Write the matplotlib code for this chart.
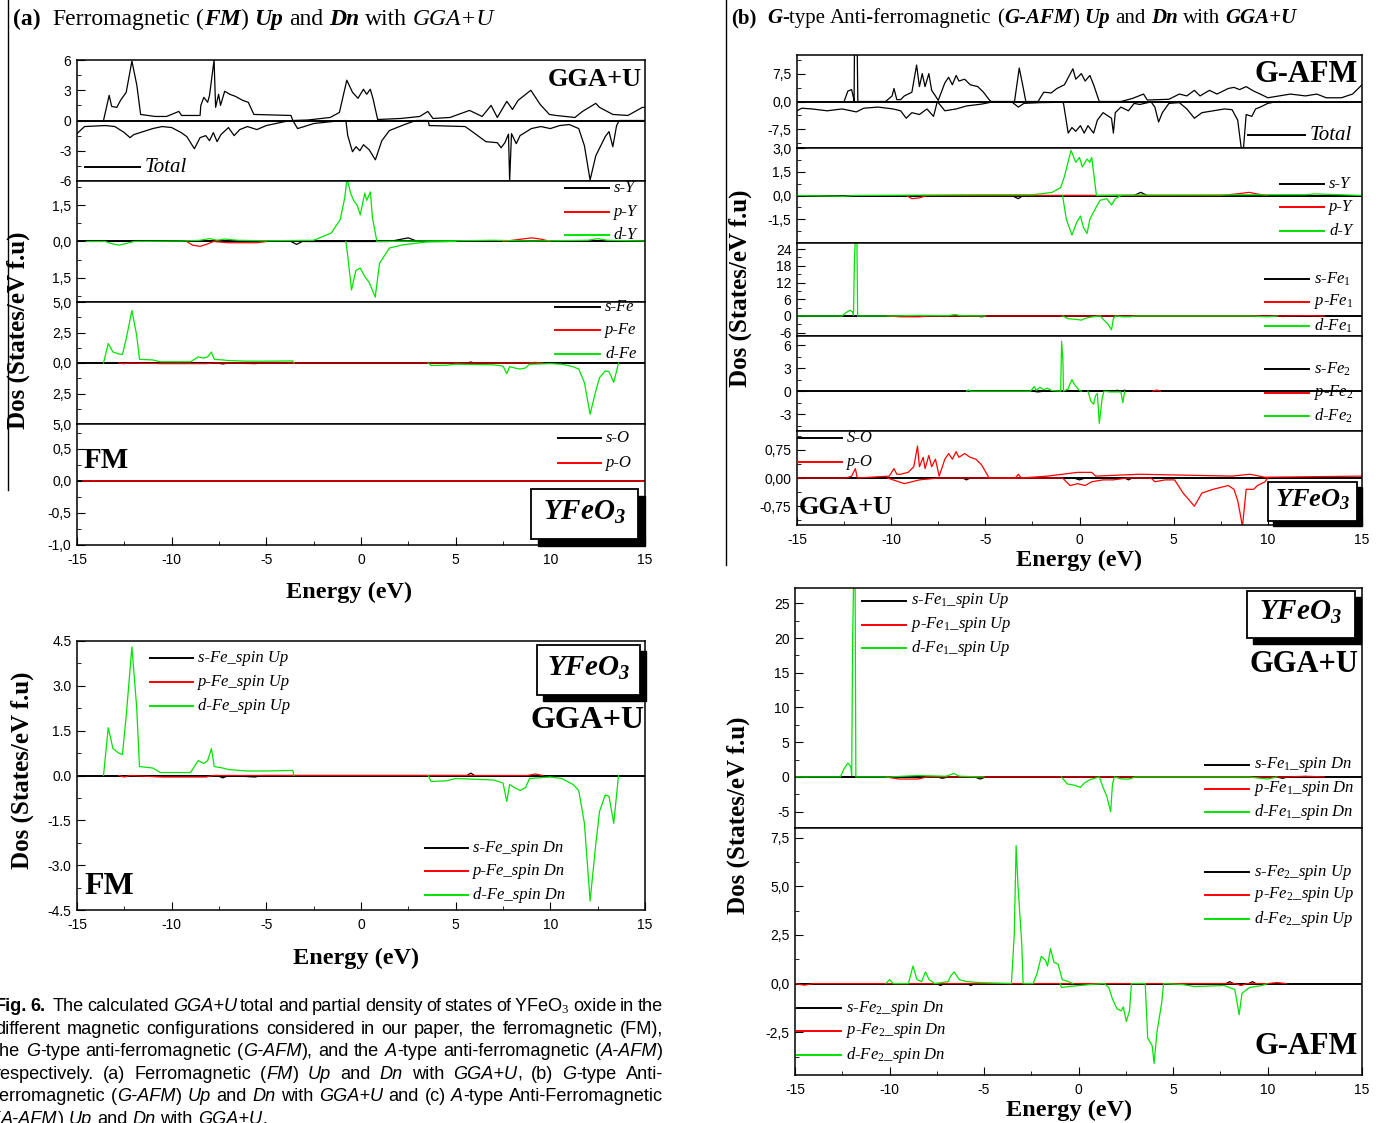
import matplotlib.pyplot as plt
from matplotlib.lines import Line2D
from matplotlib.patches import Rectangle
from matplotlib.ticker import MultipleLocator

plt.rcParams['font.family'] = ['Liberation Serif', 'DejaVu Serif']
plt.rcParams['mathtext.fontset'] = 'custom'
plt.rcParams['mathtext.rm'] = 'Liberation Serif'
plt.rcParams['mathtext.it'] = 'Liberation Serif:italic'
plt.rcParams['mathtext.bf'] = 'Liberation Serif:italic:bold'
plt.rcParams['axes.linewidth'] = 1.1
plt.rcParams['axes.unicode_minus'] = False

GREEN = '#00e400'
RED = '#ff0000'

# ---------------- FM : total and partial DOS (energy eV, states/eV) ----------------
fm_total_up = [(-13.6, 0), (-13.3, 2.5), (-13.17, 1.4), (-12.9, 1.3), (-12.7, 2.0), (-12.4, 2.8),
               (-12.1, 5.9), (-11.84, 3.5), (-11.64, 0.6), (-10.86, 0.4), (-10.27, 0.4), (-9.62, 0.9),
               (-9.48, 0.5), (-8.5, 0.5), (-8.46, 1.5), (-8.3, 2.3), (-8.1, 1.8), (-8.0, 2.5),
               (-7.76, 6.0), (-7.68, 1.3), (-7.52, 2.6), (-7.42, 1.5), (-7.2, 2.9), (-6.93, 2.6),
               (-6.64, 2.4), (-6.25, 2.0), (-5.95, 1.8), (-5.66, 0.6), (-3.7, 0.5), (-3.6, 0.0),
               (-2.8, 0.05), (-1.63, 0.3), (-1.14, 0.8), (-0.75, 4.0), (-0.45, 2.8), (-0.16, 2.2),
               (0.13, 3.1), (0.3, 2.6), (0.49, 3.1), (0.63, 2.2), (0.88, 0.1), (2.1, 0.2), (3.1, 0.4),
               (3.53, 0.9), (3.8, 0.2), (4.7, 0.3), (5.73, 1.0), (6.4, 0.4), (6.87, 1.5), (7.2, 0.3),
               (7.7, 1.9), (8.0, 1.1), (8.3, 2.0), (8.97, 3.0), (9.46, 1.6), (9.95, 0.6), (10.3, 0.5),
               (11.3, 0.3), (11.7, 0.9), (12.4, 1.7), (12.6, 1.3), (13.3, 0.6), (14.1, 0.5), (14.86, 1.3),
               (15.0, 1.3)]
fm_total_dn = [(-15, -1.3), (-14.6, -0.6), (-13.5, -0.5), (-13.0, -0.6), (-12.5, -1.2), (-12.2, -1.7),
               (-12.0, -1.4), (-11.5, -1.1), (-11.0, -0.8), (-10.5, -0.6), (-10.0, -0.7), (-9.5, -1.2),
               (-9.2, -1.6), (-8.8, -2.8), (-8.5, -1.7), (-8.2, -1.5), (-8.0, -2.0), (-7.8, -1.2),
               (-7.6, -2.1), (-7.4, -1.4), (-7.0, -0.7), (-6.7, -1.5), (-6.4, -0.9), (-6.0, -0.6),
               (-5.5, -0.9), (-5.0, -0.5), (-4.5, -0.3), (-4.0, -0.1), (-3.6, 0.0), (-3.35, -0.8),
               (-3.0, -0.6), (-2.5, -0.3), (-1.5, -0.1), (-0.8, 0.0), (-0.7, -1.5), (-0.45, -3.1),
               (-0.26, -2.6), (-0.06, -3.0), (0.13, -2.4), (0.43, -2.9), (0.76, -3.9), (1.1, -2.0),
               (1.5, -1.0), (2.3, -0.4), (2.9, 0.0), (3.55, 0.0), (3.6, -0.5), (5.5, -0.6), (5.8, -1.0),
               (6.6, -2.1), (7.2, -2.2), (7.4, -2.7), (7.6, -2.2), (7.79, -1.35), (7.85, -6.0),
               (7.95, -1.3), (8.2, -2.3), (8.4, -1.5), (9.0, -0.8), (9.5, -0.6), (10.0, -0.8),
               (10.5, -0.5), (11.0, -0.4), (11.5, -0.8), (11.8, -2.5), (12.1, -5.9), (12.4, -3.5),
               (12.9, -1.6), (13.1, -1.1), (13.3, -2.6), (13.5, -0.5), (13.64, 0.0), (15.0, 0.0)]

fm_sY = [(-3.7, 0), (-3.4, -0.12), (-3.1, 0), (1.5, 0), (2.5, 0.15), (3.0, 0)]
fm_pY_dn = [(-9.2, 0), (-8.9, -0.15), (-8.5, -0.2), (-8.1, -0.1), (-7.8, 0), (-7.0, -0.05), (-5.5, -0.05), (-5.0, 0)]
fm_pY_up = [(7.5, 0), (8.0, 0.05), (8.5, 0.1), (9.0, 0.15), (9.5, 0.1), (10.0, 0)]
fm_dY_up = [(-14.5, 0.0), (-13.5, 0.0), (-13.2, -0.08), (-12.8, -0.15), (-12.4, -0.08), (-12.0, 0.0),
            (-9.5, 0.02), (-8.5, 0.05), (-8.0, 0.12), (-7.6, 0.05), (-7.2, 0.1), (-6.5, 0.05),
            (-5.0, 0.03), (-2.5, 0.05), (-1.57, 0.35), (-1.1, 0.9), (-0.86, 1.8), (-0.74, 2.6),
            (-0.55, 2.0), (-0.39, 1.7), (-0.2, 1.5), (-0.04, 1.1), (0.2, 2.0), (0.3, 1.7),
            (0.5, 2.05), (0.6, 1.0), (0.84, 0.0), (3.0, 0.02), (5.0, 0.03), (7.0, 0.05), (9.0, 0.02),
            (12.0, 0.05), (12.5, 0.12), (13.0, 0.05), (15.0, 0.02)]
fm_dY_dn = [(-0.8, 0.0), (-0.7, -0.6), (-0.5, -2.0), (-0.27, -1.2), (-0.04, -1.1), (0.2, -1.45),
            (0.44, -1.7), (0.75, -2.3), (0.98, -0.9), (1.5, -0.27), (2.2, -0.14), (3.5, -0.02), (5.0, 0.0)]

fm_sFe = [(-7.6, 0), (-7.3, -0.08), (-7.0, 0), (-5.6, -0.05), (-5.2, 0), (5.6, 0), (5.8, 0.08), (6.0, 0)]
fm_pFe = [(-12.8, 0), (-12.5, -0.05), (-12.2, 0), (-10.5, -0.05), (-8.2, -0.05), (-7.8, 0),
          (8.8, 0), (9.2, 0.05), (9.6, 0)]
fm_dFe_up = [(-13.6, 0.0), (-13.35, 1.6), (-13.1, 0.9), (-12.8, 0.75), (-12.6, 0.7), (-12.4, 2.0),
             (-12.1, 4.3), (-11.85, 2.3), (-11.7, 0.3), (-11.0, 0.25), (-10.6, 0.1), (-9.0, 0.1),
             (-8.6, 0.5), (-8.3, 0.4), (-8.1, 0.5), (-7.9, 0.9), (-7.75, 0.3), (-7.3, 0.25),
             (-7.0, 0.2), (-6.0, 0.15), (-5.0, 0.15), (-3.6, 0.17), (-3.55, 0.0)]
fm_dFe_dn = [(3.55, 0.0), (3.7, -0.2), (4.5, -0.18), (5.0, -0.1), (7.0, -0.15), (7.5, -0.25),
             (7.7, -0.87), (7.85, -0.3), (8.1, -0.4), (8.4, -0.5), (8.7, -0.4), (8.9, -0.1),
             (10.0, -0.05), (10.6, -0.1), (11.2, -0.3), (11.5, -0.5), (11.8, -1.6), (12.1, -4.2),
             (12.4, -2.3), (12.6, -1.2), (12.9, -0.65), (13.1, -0.7), (13.35, -1.6), (13.6, 0.0)]
fm_pO = [(-14.7, 0.0), (15.0, 0.0)]

# ---------------- G-AFM : total and partial DOS ----------------
gafm_total_up = [(-12.5, 0), (-12.3, 2.8), (-12.1, 3.2), (-12.0, 1.0), (-11.97, 0), (-11.95, 13),
                 (-11.8, 13), (-11.77, 0), (-10.3, 0), (-9.95, 1.5), (-9.85, 3.5), (-9.7, 0.5),
                 (-9.5, 0.5), (-9.3, 1.5), (-8.9, 2.5), (-8.65, 9.8), (-8.5, 4.0), (-8.35, 7.5),
                 (-8.2, 4.0), (-8.0, 7.5), (-7.85, 3.0), (-7.65, 1.5), (-7.5, 0.3), (-7.15, 5.0),
                 (-6.95, 6.5), (-6.75, 4.5), (-6.55, 7.0), (-6.4, 5.5), (-6.1, 6.0), (-5.8, 4.5),
                 (-5.4, 4.0), (-5.1, 2.5), (-4.8, 0.5), (-4.7, 0.0), (-3.45, 0.0), (-3.2, 9.0),
                 (-3.0, 4.0), (-2.85, 0.0), (-2.2, 0.0), (-1.9, 2.5), (-1.5, 2.3), (-1.2, 3.5),
                 (-0.8, 4.5), (-0.35, 8.8), (-0.2, 6.0), (0.1, 7.5), (0.3, 5.5), (0.55, 7.0),
                 (0.75, 4.5), (1.05, 0.0), (2.2, 0.0), (2.8, 0.8), (3.4, 2.0), (3.6, 0.4), (4.2, 0.5),
                 (4.75, 0.6), (5.3, 2.0), (5.7, 1.5), (6.1, 3.0), (6.4, 1.5), (6.9, 3.0), (7.3, 2.0),
                 (7.9, 3.5), (8.2, 3.8), (8.5, 3.2), (8.85, 4.0), (9.25, 2.8), (9.6, 2.0), (10.0, 1.0),
                 (10.6, 1.5), (11.2, 2.0), (12.0, 1.5), (12.6, 2.0), (13.1, 1.0), (13.9, 1.0),
                 (14.5, 2.0), (15.0, 4.5)]
gafm_total_dn = [(-15, -2.5), (-14.75, -1.8), (-14.2, -2.0), (-13.4, -2.5), (-12.6, -2.0), (-11.85, -2.8),
                 (-11.45, -1.8), (-10.7, -1.5), (-9.9, -2.0), (-9.5, -2.5), (-9.2, -4.5), (-8.9, -3.0),
                 (-8.5, -3.5), (-8.1, -2.0), (-7.75, -4.0), (-7.55, 0.0), (-7.15, -2.5), (-6.55, -2.0),
                 (-6.0, -1.2), (-5.2, -0.7), (-4.6, -0.1), (-3.6, -0.1), (-3.25, -1.5), (-2.95, -0.5),
                 (-2.1, -0.3), (-0.9, -0.2), (-0.85, -0.5), (-0.6, -8.5), (-0.4, -7.0), (-0.2, -8.0),
                 (0.05, -6.5), (0.25, -8.5), (0.45, -6.5), (0.75, -8.5), (0.95, -5.0), (1.25, -3.0),
                 (1.7, -4.5), (1.8, -8.5), (1.9, -3.0), (2.2, -1.5), (2.6, -2.5), (2.9, -0.5),
                 (3.2, -0.8), (3.8, -0.1), (4.0, -1.5), (4.2, -5.5), (4.4, -3.0), (4.75, -0.5),
                 (5.3, -0.3), (5.7, -2.0), (6.1, -4.5), (6.5, -3.0), (7.1, -2.5), (7.7, -2.0),
                 (8.1, -2.2), (8.4, -5.0), (8.6, -13), (8.7, -13), (8.85, -3.5), (9.15, -4.0),
                 (9.35, -2.0), (9.6, -1.5), (10.0, -0.5), (10.4, -0.1), (10.6, 0.0)]

gafm_sY = [(-3.6, 0), (-3.25, -0.2), (-3.0, 0), (2.9, 0), (3.25, 0.2), (3.6, 0)]
gafm_pY = [(-9.2, 0), (-8.9, -0.2), (-8.5, -0.15), (-8.1, 0), (7.5, 0), (8.5, 0.12), (9.0, 0.2),
           (9.5, 0.08), (10.0, 0)]
gafm_dY_up = [(-15, 0.0), (-12.5, -0.05), (-12.0, 0.0), (-5.0, 0.05), (-2.5, 0.05), (-2.1, 0.1),
              (-1.45, 0.2), (-1.0, 0.5), (-0.8, 1.2), (-0.45, 2.85), (-0.2, 2.1), (0.0, 2.4),
              (0.15, 1.8), (0.4, 2.3), (0.55, 2.1), (0.65, 2.4), (0.9, 0.0), (3.0, 0.03),
              (12.0, 0.05), (12.5, 0.1), (15.0, 0.0)]
gafm_dY_dn = [(-0.9, 0.0), (-0.7, -1.5), (-0.4, -2.5), (-0.15, -1.7), (0.05, -1.3), (0.2, -2.0),
              (0.4, -2.4), (0.55, -1.5), (0.9, -0.7), (1.1, -0.3), (1.45, -0.2), (1.7, -0.6),
              (1.9, -0.2), (2.2, 0.0)]

gafm_sFe1 = [(-7.5, 0), (-7.2, -0.2), (-6.9, 0), (-5.5, 0), (-5.2, -0.3), (-4.9, 0), (10.5, 0), (10.8, -0.2), (11.1, 0)]
gafm_pFe1 = [(-10.2, 0), (-9.5, -0.3), (-8.5, -0.3), (-8.0, 0), (11.0, 0), (12.0, 0.1), (13.0, 0)]
gafm_dFe1_up = [(-15, 0.0), (-12.6, 0.0), (-12.4, 1.2), (-12.2, 2.0), (-12.05, 1.5), (-12.0, 0.2),
                (-11.95, 20), (-11.9, 28), (-11.82, 28), (-11.78, 0.0), (-10.0, 0.0), (-8.5, 0.2),
                (-7.0, 0.1), (-6.6, 0.5), (-6.3, 0.1), (-5.0, 0.0)]
gafm_dFe1_dn = [(-0.9, 0.0), (-0.6, -1.0), (-0.2, -1.2), (0.1, -1.5), (0.3, -0.9), (0.6, -0.4),
                (1.1, 0.0), (1.3, -1.5), (1.5, -2.8), (1.7, -5.0), (1.8, -1.0), (1.9, 0.0),
                (2.3, -0.3), (2.7, -0.3), (3.0, 0.0), (9.0, 0.0), (10.0, -0.3), (10.5, 0.0)]

gafm_sFe2 = [(-2.5, 0), (-2.2, -0.1), (-1.9, 0), (1.8, 0), (2.0, 0.12), (2.2, 0), (2.4, 0.12), (2.6, 0)]
gafm_pFe2 = [(3.9, 0), (4.1, 0.15), (4.3, 0)]
gafm_dFe2_up = [(-6.0, 0.0), (-5.9, 0.15), (-5.8, 0.0), (-2.6, 0.0), (-2.4, 0.6), (-2.3, 0.1),
                (-2.1, 0.5), (-1.9, 0.2), (-1.7, 0.4), (-1.5, 0.1), (-1.0, 0.0), (-0.95, 6.5),
                (-0.88, 4.0), (-0.85, 0.0), (-0.6, 0.3), (-0.5, 1.0), (-0.4, 1.5), (-0.3, 1.0),
                (-0.15, 0.5), (0.0, 0.1), (0.1, 0.0)]
gafm_dFe2_dn = [(0.45, 0.0), (0.6, -1.3), (0.75, -1.7), (0.85, -0.6), (0.95, -0.3), (1.05, -4.2),
                (1.2, -1.0), (1.3, 0.0), (1.6, -0.1), (2.2, -0.1), (2.3, -1.5), (2.4, 0.0)]

gafm_sO = [(-6.2, 0), (-6.0, -0.05), (-5.8, 0), (-0.3, 0), (0.0, -0.05), (0.3, 0), (2.4, 0), (2.6, -0.05), (2.8, 0)]
gafm_pO_up = [(-15, 0.0), (-12.4, 0.0), (-12.1, 0.05), (-11.9, 0.25), (-11.8, 0.0), (-10.1, 0.05),
              (-9.85, 0.25), (-9.7, 0.1), (-9.5, 0.1), (-9.1, 0.15), (-8.8, 0.3), (-8.6, 0.85),
              (-8.5, 0.3), (-8.3, 0.55), (-8.2, 0.25), (-8.0, 0.6), (-7.85, 0.3), (-7.65, 0.5),
              (-7.45, 0.05), (-7.15, 0.5), (-6.95, 0.65), (-6.75, 0.5), (-6.55, 0.7), (-6.4, 0.55),
              (-6.1, 0.65), (-5.8, 0.55), (-5.5, 0.5), (-5.2, 0.35), (-4.8, 0.0), (-3.4, 0.0),
              (-3.25, 0.1), (-3.1, 0.0), (-1.7, 0.05), (-0.9, 0.1), (-0.1, 0.15), (0.65, 0.15),
              (0.85, 0.05), (3.2, 0.1), (8.1, 0.05), (9.05, 0.1), (9.85, 0.02), (15.0, 0.05)]
gafm_pO_dn = [(-10.2, 0.0), (-9.9, -0.05), (-9.3, -0.15), (-8.5, -0.05), (-7.5, 0.0), (-0.9, 0.0),
              (-0.7, -0.1), (-0.5, -0.2), (-0.1, -0.15), (0.3, -0.2), (0.65, -0.1), (1.25, -0.05),
              (1.8, -0.05), (2.5, 0.0), (3.8, 0.0), (4.0, -0.1), (4.55, -0.05), (5.05, -0.05),
              (5.5, -0.4), (6.1, -0.75), (6.5, -0.4), (7.1, -0.3), (7.9, -0.2), (8.2, -0.3),
              (8.4, -0.6), (8.55, -1.0), (8.65, -1.3), (8.85, -0.3), (9.25, -0.3), (9.45, -0.2),
              (9.85, -0.1), (10.0, 0.0)]

# second Fe site, spin-resolved (lower right)
gafm_sFe2b = [(-7.5, 0), (-7.3, -0.1), (-7.1, 0), (-5.9, 0), (-5.7, -0.1), (-5.5, 0), (7.8, 0), (8.0, 0.1),
              (8.2, 0), (9.0, 0), (9.2, 0.1), (9.4, 0)]
gafm_pFe2b = [(-15, 0), (-14.5, -0.08), (-14.0, 0), (8.3, 0), (8.6, -0.1), (8.9, 0), (10.0, 0),
              (10.5, 0.05), (11.0, 0)]
gafm_dFe2b_up = [(-10.2, 0.0), (-10.0, 0.2), (-9.8, 0.0), (-9.0, 0.0), (-8.76, 0.9), (-8.54, 0.2),
                 (-8.3, 0.1), (-8.1, 0.6), (-7.9, 0.2), (-7.6, 0.0), (-6.9, 0.1), (-6.76, 0.4),
                 (-6.58, 0.6), (-6.3, 0.2), (-5.9, 0.1), (-5.2, 0.05), (-3.55, 0.0), (-3.4, 2.5),
                 (-3.3, 7.1), (-3.2, 5.0), (-3.0, 2.0), (-2.93, 0.0), (-2.4, 0.0), (-2.2, 0.5),
                 (-1.97, 1.4), (-1.75, 1.2), (-1.64, 0.9), (-1.48, 1.8), (-1.3, 1.1), (-1.08, 1.0),
                 (-0.86, 0.2), (-0.52, 0.1), (-0.3, 0.0)]
gafm_dFe2b_dn = [(-0.97, 0.0), (-0.9, -0.2), (-0.5, -0.15), (0.6, -0.05), (1.37, 0.0), (1.6, -0.2),
                 (1.8, -0.8), (2.04, -1.3), (2.26, -1.4), (2.37, -1.2), (2.53, -1.95), (2.7, -1.4),
                 (2.8, 0.0), (3.53, 0.0), (3.66, -2.8), (3.9, -3.2), (4.0, -4.1), (4.15, -2.5),
                 (4.4, -1.0), (4.5, 0.0), (5.5, -0.05), (6.15, -0.15), (7.7, -0.1), (8.27, -0.3),
                 (8.5, -1.6), (8.65, -0.5), (9.05, -0.2), (9.7, -0.1), (10.0, 0.0)]

# ------------------------------------------------------------------------------
W, H = 1379, 1123
fig = plt.figure(figsize=(W / 100, H / 100), dpi=100)
renderer = fig.canvas.get_renderer()


def fx(x):
    return x / W


def fy(y):
    return 1 - y / H


def panel(left, top, right, bottom, ylim, yticks, ylabels, yminor, xlabels=False):
    ax = fig.add_axes([fx(left), fy(bottom), (right - left) / W, (bottom - top) / H])
    ax.set_xlim(-15, 15)
    ax.set_ylim(*ylim)
    ax.set_yticks(yticks, ylabels)
    ax.yaxis.set_minor_locator(MultipleLocator(yminor))
    ax.xaxis.set_major_locator(MultipleLocator(5))
    ax.xaxis.set_minor_locator(MultipleLocator(2.5))
    ax.tick_params(which='both', direction='in', labelsize=10,
                   labelfontfamily='Liberation Sans', pad=4)
    ax.tick_params(which='major', length=6)
    ax.tick_params(which='minor', length=3)
    if xlabels:
        ax.tick_params(axis='x', pad=6)
    else:
        ax.tick_params(axis='x', which='both', bottom=False, labelbottom=False)
    ax.axhline(0, color='k', lw=1.4, zorder=1)
    return ax


def trace(ax, pts, color, lw=0.9):
    e, d = zip(*pts)
    ax.plot(e, d, color=color, lw=lw, zorder=2)


def key(x0, x1, y, color, label, size=12):
    fig.add_artist(Line2D([fx(x0), fx(x1)], [fy(y), fy(y)], color=color, lw=1.4))
    fig.text(fx(x1 + 5), fy(y), label, fontsize=size, style='italic', ha='left', va='center')


def formula(left, top, right, bottom, d=7, size=21):
    fig.add_artist(Rectangle((fx(left + d), fy(bottom + d)), (right - left) / W, (bottom - top) / H,
                             transform=fig.transFigure, facecolor='k', edgecolor='k', zorder=4))
    fig.add_artist(Rectangle((fx(left), fy(bottom)), (right - left) / W, (bottom - top) / H,
                             transform=fig.transFigure, facecolor='white', edgecolor='k',
                             lw=1.3, zorder=5))
    fig.text(fx((left + right) / 2), fy((top + bottom) / 2 - 2), r'YFeO$_{\mathbf{3}}$',
             fontsize=size, weight='bold', style='italic', ha='center', va='center', zorder=6)


def tag(x, y, s, size=20, ha='right'):
    fig.text(fx(x), fy(y), s, fontsize=size, weight='bold', ha=ha, va='center')


def dos_label(x, y):
    fig.text(fx(x), fy(y), 'Dos (States/eV f.u)', rotation=90, fontsize=18, weight='bold',
             ha='center', va='center')


def energy_label(x, y):
    fig.text(fx(x), fy(y), 'Energy (eV)', fontsize=17.5, weight='bold', ha='center', va='center')


def width_of(s, size, **kw):
    t = fig.text(0, 0, s, fontsize=size, **kw)
    w = t.get_window_extent(renderer).width
    t.remove()
    return w


def runs(x, y, parts, size, family, span=None):
    space = width_of('n n', size, family=family) - width_of('nn', size, family=family)
    words = []
    for txt, kw in parts:
        for i, w in enumerate(txt.split(' ')):
            if i:
                words.append(None)
            if w:
                words.append((w, kw))
    sizes = [space if w is None else width_of(w[0], size, family=family, **w[1]) for w in words]
    gap = space
    if span is not None:
        gap = space + (span - sum(sizes)) / words.count(None)
    for w, s in zip(words, sizes):
        if w is None:
            x += gap
        else:
            fig.text(fx(x), fy(y), w[0], fontsize=size, family=family, va='baseline', **w[1])
            x += s


N = {}
B = dict(weight='bold')
I = dict(style='italic')
BI = dict(weight='bold', style='italic')
SERIF = ['Liberation Serif', 'DejaVu Serif']

# ---------------- (a) FM stacked panels ----------------
a_l, a_r = 77, 645
ax = panel(a_l, 60, a_r, 181, (-6, 6), [-6, -3, 0, 3, 6], ['-6', '-3', '0', '3', '6'], 1.5)
trace(ax, fm_total_up, 'k')
trace(ax, fm_total_dn, 'k')

ax = panel(a_l, 181, a_r, 302, (-2.5, 2.5), [-1.5, 0, 1.5], ['1,5', '0,0', '1,5'], 0.75)
trace(ax, fm_sY, 'k')
trace(ax, fm_pY_dn, RED)
trace(ax, fm_pY_up, RED)
trace(ax, fm_dY_up, GREEN)
trace(ax, fm_dY_dn, GREEN)

ax = panel(a_l, 302, a_r, 424, (-5, 5), [-5, -2.5, 0, 2.5, 5], ['5,0', '2,5', '0,0', '2,5', '5,0'], 1.25)
trace(ax, fm_sFe, 'k')
trace(ax, fm_pFe, RED)
trace(ax, fm_dFe_up, GREEN)
trace(ax, fm_dFe_dn, GREEN)

ax = panel(a_l, 424, a_r, 545, (-1.0, 0.89), [-1.0, -0.5, 0, 0.5],
           ['-1,0', '-0,5', '0,0', '0,5'], 0.25, xlabels=True)
trace(ax, fm_pO, RED, lw=1.1)

key(85, 140, 167, 'k', 'Total', size=15)
for y, c, s in [(188, 'k', 's-Y'), (212, RED, 'p-Y'), (235, GREEN, 'd-Y')]:
    key(565, 609, y, c, s)
for y, c, s in [(307, 'k', 's-Fe'), (330, RED, 'p-Fe'), (354, GREEN, 'd-Fe')]:
    key(555, 600, y, c, s)
for y, c, s in [(438, 'k', 's-O'), (463, RED, 'p-O')]:
    key(558, 601, y, c, s)
tag(642, 80, 'GGA+U', size=19)
tag(84, 461, 'FM', size=21, ha='left')
formula(531, 489, 638, 539)
dos_label(18, 330)
energy_label(349, 592)

# ---------------- FM Fe spin-resolved ----------------
ax = panel(77, 641, 645, 910, (-4.5, 4.5), [-4.5, -3, -1.5, 0, 1.5, 3, 4.5],
           ['-4.5', '-3.0', '-1.5', '0.0', '1.5', '3.0', '4.5'], 0.75, xlabels=True)
trace(ax, fm_sFe, 'k')
trace(ax, fm_pFe, RED)
trace(ax, fm_dFe_up, GREEN)
trace(ax, fm_dFe_dn, GREEN)
for y, c, s in [(658, 'k', 's-Fe_spin Up'), (682, RED, 'p-Fe_spin Up'), (706, GREEN, 'd-Fe_spin Up')]:
    key(150, 193, y, c, s)
for y, c, s in [(848, 'k', 's-Fe_spin Dn'), (871, RED, 'p-Fe_spin Dn'), (895, GREEN, 'd-Fe_spin Dn')]:
    key(425, 468, y, c, s)
formula(537, 645, 640, 695, d=6)
tag(645, 720, 'GGA+U', size=23)
tag(84, 886, 'FM', size=23, ha='left')
dos_label(22, 770)
energy_label(356, 958)

# ---------------- (b) G-AFM stacked panels ----------------
b_l, b_r = 797, 1362
ax = panel(b_l, 55, b_r, 148, (-12.5, 12.5), [-7.5, 0, 7.5], ['-7,5', '0,0', '7,5'], 3.75)
trace(ax, gafm_total_up, 'k')
trace(ax, gafm_total_dn, 'k')

ax = panel(b_l, 148, b_r, 243, (-3, 3), [-1.5, 0, 1.5, 3], ['-1,5', '0,0', '1,5', '3,0'], 0.75)
trace(ax, gafm_sY, 'k')
trace(ax, gafm_pY, RED)
trace(ax, gafm_dY_up, GREEN)
trace(ax, gafm_dY_dn, GREEN)

ax = panel(b_l, 243, b_r, 336, (-7.2, 26.2), [-6, 0, 6, 12, 18, 24],
           ['-6', '0', '6', '12', '18', '24'], 3)
trace(ax, gafm_sFe1, 'k')
trace(ax, gafm_pFe1, RED)
trace(ax, gafm_dFe1_up, GREEN)
trace(ax, gafm_dFe1_dn, GREEN)

ax = panel(b_l, 336, b_r, 431, (-5.2, 7.2), [-3, 0, 3, 6], ['-3', '0', '3', '6'], 1.5)
trace(ax, gafm_sFe2, 'k')
trace(ax, gafm_pFe2, RED)
trace(ax, gafm_dFe2_up, GREEN)
trace(ax, gafm_dFe2_dn, GREEN)

ax = panel(b_l, 431, b_r, 525, (-1.25, 1.25), [-0.75, 0, 0.75], ['-0,75', '0,00', '0,75'], 0.375,
           xlabels=True)
trace(ax, gafm_sO, 'k')
trace(ax, gafm_pO_up, RED)
trace(ax, gafm_pO_dn, RED)

key(1248, 1305, 135, 'k', 'Total', size=15)
for y, c, s in [(184, 'k', 's-Y'), (207, RED, 'p-Y'), (231, GREEN, 'd-Y')]:
    key(1280, 1324, y, c, s)
for y, c, s in [(279, 'k', 's-Fe$_1$'), (302, RED, 'p-Fe$_1$'), (326, GREEN, 'd-Fe$_1$')]:
    key(1265, 1309, y, c, s)
for y, c, s in [(369, 'k', 's-Fe$_2$'), (393, RED, 'p-Fe$_2$'), (416, GREEN, 'd-Fe$_2$')]:
    key(1265, 1309, y, c, s)
key(798, 842, 438, 'k', 'S-O')
key(798, 842, 462, RED, 'p-O')
tag(1358, 75, 'G-AFM', size=22)
tag(799, 508, 'GGA+U', size=19, ha='left')
formula(1268, 482, 1357, 521, d=5, size=19)
dos_label(740, 288)
energy_label(1079, 560)

# ---------------- G-AFM Fe1 / Fe2 spin-resolved ----------------
ax = panel(795, 588, 1362, 828, (-7.35, 27.2), [-5, 0, 5, 10, 15, 20, 25],
           ['-5', '0', '5', '10', '15', '20', '25'], 2.5)
trace(ax, gafm_sFe1, 'k')
trace(ax, gafm_pFe1, RED)
trace(ax, gafm_dFe1_up, GREEN)
trace(ax, gafm_dFe1_dn, GREEN)

ax = panel(795, 828, 1362, 1075, (-4.7, 8.0), [-2.5, 0, 2.5, 5, 7.5],
           ['-2,5', '0,0', '2,5', '5,0', '7,5'], 1.25, xlabels=True)
trace(ax, gafm_sFe2b, 'k')
trace(ax, gafm_pFe2b, RED)
trace(ax, gafm_dFe2b_up, GREEN)
trace(ax, gafm_dFe2b_dn, GREEN)

for y, c, s in [(601, 'k', 's-Fe$_1$_spin Up'), (625, RED, 'p-Fe$_1$_spin Up'),
                (648, GREEN, 'd-Fe$_1$_spin Up')]:
    key(862, 906, y, c, s)
for y, c, s in [(765, 'k', 's-Fe$_1$_spin Dn'), (789, RED, 'p-Fe$_1$_spin Dn'),
                (812, GREEN, 'd-Fe$_1$_spin Dn')]:
    key(1205, 1249, y, c, s)
for y, c, s in [(872, 'k', 's-Fe$_2$_spin Up'), (895, RED, 'p-Fe$_2$_spin Up'),
                (919, GREEN, 'd-Fe$_2$_spin Up')]:
    key(1205, 1249, y, c, s)
for y, c, s in [(1008, 'k', 's-Fe$_2$_spin Dn'), (1031, RED, 'p-Fe$_2$_spin Dn'),
                (1055, GREEN, 'd-Fe$_2$_spin Dn')]:
    key(797, 841, y, c, s)
formula(1247, 591, 1355, 638, d=6)
tag(1358, 665, 'GGA+U', size=22)
tag(1358, 1046, 'G-AFM', size=22)
dos_label(738, 815)
energy_label(1069, 1110)

# ---------------- frame rules and headings ----------------
fig.add_artist(Line2D([fx(8), fx(8)], [fy(0), fy(490)], color='k', lw=1.0))
fig.add_artist(Line2D([fx(726), fx(726)], [fy(0), fy(565)], color='k', lw=1.0))

runs(13, 25, [('(a)', B), ('  Ferromagnetic (', N), ('FM', BI), (') ', N), ('Up', BI), (' and ', N),
              ('Dn', BI), (' with ', N), ('GGA+U', I)], 17, SERIF)
runs(731, 23, [('(b)', B), ('  ', N), ('G', BI), ('-type Anti-ferromagnetic (', N), ('G-AFM', BI),
               (') ', N), ('Up', BI), (' and ', N), ('Dn', BI), (' with ', N), ('GGA+U', BI)],
     15, SERIF)

# ---------------- caption ----------------
CAP = ['Liberation Sans Narrow', 'Liberation Sans', 'DejaVu Sans']
cap_lines = [
    [('Fig. 6.', B), ('  The calculated ', N), ('GGA+U', I),
     (' total and partial density of states of YFeO$_3$ oxide in the', N)],
    [('different magnetic configurations considered in our paper, the ferromagnetic (FM),', N)],
    [('the ', N), ('G', I), ('-type anti-ferromagnetic (', N), ('G-AFM', I), ('), and the ', N), ('A', I),
     ('-type anti-ferromagnetic (', N), ('A-AFM', I), (')', N)],
    [('respectively. (a) Ferromagnetic (', N), ('FM', I), (') ', N), ('Up', I), (' and ', N), ('Dn', I),
     (' with ', N), ('GGA+U', I), (', (b) ', N), ('G', I), ('-type Anti-', N)],
    [('ferromagnetic (', N), ('G-AFM', I), (') ', N), ('Up', I), (' and ', N), ('Dn', I), (' with ', N),
     ('GGA+U', I), (' and (c) ', N), ('A', I), ('-type Anti-Ferromagnetic', N)],
    [('(', N), ('A-AFM', I), (') ', N), ('Up', I), (' and ', N), ('Dn', I), (' with ', N), ('GGA+U', I),
     ('.', N)],
]
for i, parts in enumerate(cap_lines):
    runs(-5, 1011 + i * 22.6, parts, 13.1, CAP, span=None if i == 5 else 668)

fig.savefig('out.png', dpi=100)
